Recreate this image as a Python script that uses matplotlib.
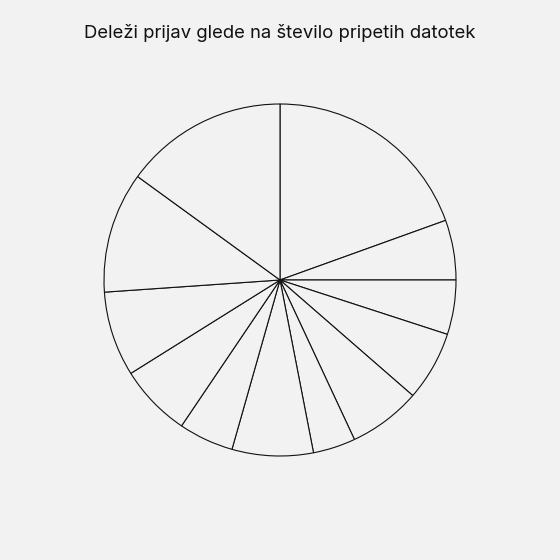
import matplotlib
matplotlib.use("Agg")
import matplotlib.pyplot as plt

# shares (%), clockwise from the top
categories = ["0", "1", "2", "3", "4", "5", "6", "7", "8", "9", "10", "11+"]
shares = [19.5, 5.5, 5.0, 6.4, 6.65, 3.9, 7.45, 5.05, 6.65, 7.8, 11.1, 15.0]
title = "Deleži prijav glede na število pripetih datotek"

bg = "#f2f2f2"
plt.rcParams['font.family'] = ['Inter', 'DejaVu Sans']

fig = plt.figure(figsize=(5.6, 5.6), dpi=100, facecolor=bg)
r = 176 / 560
ax = fig.add_axes([0.5 - r, 0.5 - r, 2 * r, 2 * r])
ax.set_facecolor(bg)
ax.pie(shares, startangle=90, counterclock=False,
       colors=[bg] * len(shares),
       wedgeprops=dict(edgecolor="#111111", linewidth=0.8))
ax.set_xlim(-1, 1)
ax.set_ylim(-1, 1)
ax.set_aspect("equal")
ax.axis("off")
fig.text(0.5, 1 - 33 / 560, title, ha="center", va="center",
         fontsize=13.3, color="#111111")
fig.savefig("out.png", dpi=100, facecolor=bg)
